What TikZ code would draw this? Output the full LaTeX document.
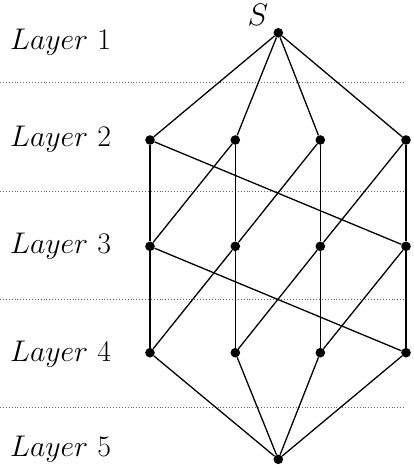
\documentclass[tikz,border=0pt]{standalone}
\begin{document}
\begin{tikzpicture}[x=1pt,y=-1pt,
  dot/.style={circle,fill=black,inner sep=0pt,minimum size=9.6pt},
  edge/.style={line width=1.3pt},
  sep/.style={dotted,line width=0.9pt,gray!80!black},
  lab/.style={anchor=base west,inner sep=0pt,font=\fontsize{24.88}{30}\selectfont}]
\useasboundingbox (0,0) rectangle (413,471);
% separators
\foreach \y/\n in {82.3/a,191.7/b,299/c,407.7/d}{
  \coordinate (sl\n) at (0,\y); \coordinate (sr\n) at (404,\y);
  \draw[sep] (sl\n) -- (sr\n);}
% labels
\node[lab] (l1) at (10,49.3) {\scalebox{1.2}{$Layer\ 1$}};
\node[lab] (l2) at (10,146.7) {\scalebox{1.2}{$Layer\ 2$}};
\node[lab] (l3) at (10,253.8) {\scalebox{1.2}{$Layer\ 3$}};
\node[lab] (l4) at (10,361) {\scalebox{1.2}{$Layer\ 4$}};
\node[lab] (l5) at (10,456.7) {\scalebox{1.2}{$Layer\ 5$}};
% nodes
\node[dot] (s) at (278.3,32.8) {};
\node[lab,anchor=base] (slab) at (258,25.5) {\scalebox{1.25}{$S$}};
\foreach \x [count=\i] in {150,235.3,320.3,406}{
  \node[dot] (a\i) at (\x,140) {};
  \node[dot] (b\i) at (\x,246.3) {};
  \node[dot] (c\i) at (\x,352.7) {};}
\node[dot] (t) at (278.3,459.3) {};
% edges
\foreach \i in {1,...,4}{
  \draw[edge] (s) -- (a\i);
  \draw[edge] (a\i) -- (b\i);
  \draw[edge] (b\i) -- (c\i);
  \draw[edge] (c\i) -- (t);}
\draw[edge] (a1) -- (b4);
\draw[edge] (a2) -- (b1);
\draw[edge] (a3) -- (b2);
\draw[edge] (a4) -- (b3);
\draw[edge] (b1) -- (c4);
\draw[edge] (b2) -- (c1);
\draw[edge] (b3) -- (c2);
\draw[edge] (b4) -- (c3);
\end{tikzpicture}
\end{document}
